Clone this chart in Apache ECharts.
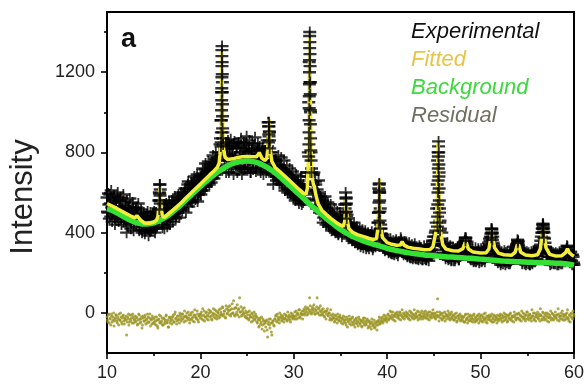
<!DOCTYPE html>
<html><head><meta charset="utf-8">
<script src="https://cdn.jsdelivr.net/npm/echarts@6/dist/echarts.min.js"></script>
<style>html,body{margin:0;padding:0;background:#fff}#c{width:587px;height:385px}</style>
</head><body><div id="c"></div>
<script>
// 2θ axis
const xStart = 10, xEnd = 60;
const xTickLabels = [10, 20, 30, 40, 50, 60];
const yTickLabels = [0, 400, 800, 1200];
const yMinorTicks = [200, 600, 1000, 1400];
const seriesNames = ['Experimental', 'Fitted', 'Background', 'Residual'];
const yTitle = 'Intensity';
const panelLabel = 'a';

// Experimental intensities, every 0.1° from 10.0 to 60.0
const expStep = 0.1;
const expValues = [
575,500,540,590,480,525,565,495,550,470,
530,575,490,515,560,470,520,550,455,500,
535,400,480,525,460,510,445,490,520,450,
475,510,525,495,455,430,480,415,465,430,
475,410,450,490,420,460,405,470,435,485,
440,475,420,490,455,515,600,615,520,460,
495,440,510,465,520,455,510,540,470,525,
490,550,495,535,480,560,505,575,515,545,
570,520,600,545,590,615,550,655,575,625,
560,640,590,655,580,635,670,555,650,600,
680,610,695,630,685,715,635,705,650,730,
665,720,750,675,740,690,770,705,775,730,
800,840,960,1310,900,830,760,835,740,815,
730,830,770,720,820,760,845,780,735,830,
760,850,785,725,835,770,715,820,750,845,
790,730,820,760,700,810,745,835,770,720,
805,745,815,820,770,725,800,715,780,735,
805,755,830,930,900,800,745,720,640,760,
700,755,680,740,670,735,660,720,645,715,
640,705,625,695,615,685,610,675,595,665,
590,660,580,650,570,640,565,630,555,625,
550,620,570,610,640,700,1050,1380,1000,720,
650,690,600,655,565,615,535,590,515,570,
495,555,475,540,465,525,450,510,440,495,
430,485,420,480,410,470,405,460,395,455,
405,465,400,455,460,520,570,490,450,400,
440,380,430,370,425,360,415,355,410,345,
405,350,400,340,395,345,390,335,385,330,
380,335,390,330,375,325,380,335,385,395,
450,620,600,440,395,370,325,365,315,360,
315,355,305,350,300,345,295,340,300,350,
295,345,300,350,315,365,350,340,305,345,
290,335,285,330,280,325,275,320,280,330,
275,320,270,315,275,325,270,315,265,310,
270,320,265,310,275,325,290,315,335,345,
360,380,410,520,760,830,520,420,370,345,
335,295,330,280,320,275,315,270,310,265,
305,260,310,270,315,275,305,265,315,320,
300,335,340,360,370,345,320,290,315,270,
310,265,305,260,300,255,305,265,310,260,
300,255,305,265,310,270,315,290,320,340,
360,395,415,380,340,310,285,310,260,300,
255,295,250,290,245,295,255,300,250,290,
245,295,255,300,275,305,285,315,320,345,
355,330,310,280,305,255,295,245,290,250,
295,245,285,240,290,250,295,255,300,265,
305,285,315,325,340,380,420,440,400,350,
325,295,280,305,255,295,245,290,250,295,
245,290,240,285,250,295,245,290,255,300,
275,310,320,330,305,295,265,290,240,280,
240];

// Experimental intensities, intermediate readings every 0.1° from 10.05 to 59.95
const expStart2 = 10.05;
const expValues2 = [
505,595,470,545,610,455,520,585,440,560,
485,600,455,530,575,440,505,590,470,520,
455,560,430,515,570,420,495,550,410,480,
520,445,490,545,410,470,515,400,455,500,
395,480,430,505,385,455,500,410,470,420,
505,400,465,430,520,560,640,560,490,425,
530,420,480,545,430,510,555,440,505,560,
455,520,580,470,545,500,590,475,555,600,
510,590,545,620,500,580,640,530,600,555,
650,550,610,680,565,625,690,590,660,620,
590,675,720,610,660,745,630,700,755,640,
740,650,710,785,670,730,800,690,765,720,
760,870,1100,1150,870,780,850,700,790,860,
700,790,865,735,800,690,855,760,820,700,
845,730,800,870,690,780,850,720,805,880,
720,810,860,700,780,845,715,800,875,705,
760,845,790,830,700,775,820,690,755,810,
700,860,950,880,780,700,800,690,760,680,
765,660,730,785,645,720,775,640,700,760,
610,700,735,600,670,720,590,650,705,575,
640,560,690,600,660,545,630,680,540,600,
640,560,610,680,700,800,1250,1150,800,690,
590,700,560,640,520,600,660,500,580,530,
560,450,525,580,440,500,550,430,495,540,
410,495,440,520,400,470,505,390,450,485,
455,380,430,490,540,600,480,420,370,445,
380,440,360,415,450,350,400,430,340,395,
420,330,380,415,325,370,410,320,365,400,
320,390,350,405,315,360,395,330,410,400,
500,640,520,420,340,390,350,310,375,335,
365,300,340,370,295,330,360,290,325,365,
330,285,355,320,375,340,300,290,355,310,
345,280,315,350,275,305,340,270,310,345,
270,330,300,265,335,295,325,265,305,335,
300,265,330,295,260,310,340,300,360,380,
340,400,450,640,800,700,460,360,400,315,
300,345,270,320,350,265,300,335,260,295,
325,280,260,320,290,330,265,295,340,305,
320,350,345,375,330,355,300,280,325,265,
290,320,255,295,325,260,285,320,250,290,
320,260,285,320,255,295,300,330,350,370,
380,420,400,350,330,275,320,295,250,310,
280,240,305,275,260,310,240,285,305,255,
280,245,310,265,295,330,280,300,340,365,
340,320,295,270,245,310,275,300,240,305,
265,300,240,275,305,245,280,310,255,285,
270,300,330,310,360,400,440,420,370,330,
300,260,310,280,240,305,270,300,245,285,
300,265,295,240,305,270,295,245,310,280,
255,295,335,310,290,250,305,260,290,250];

// Extra experimental readings on the Bragg peaks [2θ, intensity]
const expPeakPoints = [
[15.60,515],[15.62,560],[15.64,595],[15.66,640],[15.68,585],[15.70,545],
[22.20,830],[22.22,850],[22.24,900],[22.25,960],[22.27,1010],[22.28,1060],[22.29,1120],[22.30,1175],
[22.31,1230],[22.30,1280],[22.32,1330],[22.33,1250],[22.34,1190],[22.35,1100],[22.36,1040],
[22.37,980],[22.38,920],[22.40,870],[22.43,840],
[27.30,850],[27.32,890],[27.34,930],[27.36,950],[27.38,905],[27.40,860],[27.42,820],
[31.60,780],[31.62,840],[31.63,900],[31.64,960],[31.65,1020],[31.66,1080],[31.67,1140],[31.68,1200],
[31.69,1260],[31.70,1320],[31.71,1400],[31.72,1350],[31.73,1290],[31.74,1230],[31.75,1150],
[31.76,1090],[31.77,1010],[31.78,940],[31.80,870],[31.82,810],[31.85,760],[31.90,700],
[35.56,500],[35.58,540],[35.60,575],[35.62,545],[35.64,505],[35.67,470],
[39.08,450],[39.10,500],[39.12,550],[39.14,600],[39.15,645],[39.17,610],[39.19,560],[39.21,505],
[39.23,460],[39.26,420],
[45.38,430],[45.40,480],[45.42,540],[45.44,600],[45.46,660],[45.47,720],[45.48,780],[45.50,855],
[45.52,800],[45.53,740],[45.54,680],[45.56,620],[45.58,560],[45.60,500],[45.63,450],[45.66,410],
[48.38,360],[48.42,375],
[51.15,375],[51.18,400],[51.20,420],[51.23,395],[51.26,365],
[53.98,350],[54.02,360],
[56.62,400],[56.65,420],[56.68,445],[56.71,430],[56.74,405],[56.78,375]
];

// Fitted profile [2θ, intensity]
const fittedPoints = [
[10,545],[10.5,534],[11,522],[11.5,509],[12,496],[12.5,484],[13,474],[13.2,485],[13.3,492],[13.4,484],
[13.6,462],[14,448],[14.5,447],[15,452],[15.3,462],[15.45,480],[15.55,530],[15.62,600],[15.67,625],
[15.72,598],[15.8,525],[15.9,488],[16.1,475],[16.5,490],[17,510],[17.5,530],[18,552],[18.5,575],
[19,598],[19.5,620],[20,642],[20.5,665],[21,688],[21.5,710],[21.8,725],[22.0,745],[22.1,790],
[22.18,880],[22.24,1050],[22.3,1300],[22.36,1060],[22.42,890],[22.5,810],[22.65,775],[22.9,765],
[23.5,768],[24,775],[24.5,779],[25,780],[25.5,779],[26,778],[26.2,790],[26.3,800],[26.4,790],
[26.6,770],[26.9,760],[27.1,770],[27.2,810],[27.28,900],[27.35,965],[27.42,895],[27.5,805],
[27.65,755],[28,725],[28.5,705],[29,684],[29.5,662],[30,640],[30.5,618],[31,598],[31.3,590],
[31.45,620],[31.55,760],[31.63,1050],[31.7,1370],[31.77,1080],[31.85,800],[31.95,680],[32.1,640],
[32.2,630],[32.35,590],[32.6,545],[33,512],[33.5,490],[34,470],[34.5,452],[35,437],[35.3,432],
[35.45,455],[35.55,520],[35.6,565],[35.66,520],[35.75,455],[35.9,420],[36.3,402],[36.8,390],
[37.5,380],[38,372],[38.5,366],[38.85,370],[39.0,420],[39.08,540],[39.15,665],[39.22,545],
[39.3,430],[39.5,375],[40,350],[40.5,342],[41,337],[41.4,338],[41.6,355],[41.8,338],[42.2,328],
[42.8,322],[43.5,318],[44,315],[44.6,316],[44.9,330],[45.2,400],[45.35,560],[45.45,850],
[45.55,580],[45.7,410],[45.95,340],[46.3,318],[47,310],[47.6,308],[48.1,320],[48.3,345],
[48.4,365],[48.5,345],[48.7,318],[49.2,303],[50,298],[50.6,300],[50.9,320],[51.1,380],[51.2,410],
[51.3,380],[51.5,325],[51.9,298],[52.5,290],[53.3,287],[53.7,302],[53.9,335],[54,350],[54.1,335],
[54.3,302],[54.8,288],[55.5,285],[56.1,290],[56.4,320],[56.6,400],[56.7,430],[56.8,400],[57,325],
[57.4,292],[58,284],[58.7,285],[59.1,300],[59.3,320],[59.5,300],[59.8,288],[60,282]
];

// Background, every 0.5° from 10 to 60
const bgStep = 0.5;
const bgValues = [
520,512,500,488,474,462,452,446,443,444,
449,458,470,485,503,522,543,565,587,609,
630,651,671,690,707,722,735,745,752,756,
757,755,750,741,729,715,698,679,658,636,
615,594,573,551,530,510,490,470,451,433,
416,401,388,377,367,358,350,343,336,329,
322,316,311,306,302,298,295,292,289,287,
285,283,281,279,278,276,275,273,272,270,
268,266,264,262,260,258,257,256,255,254,
253,252,251,250,250,249,248,247,245,242,
238];

// Residual (plotted about 0), every 0.1° from 10.00 to 60.00
const resStep = 0.1;
const resValues = [
-20,-45,-5,-30,-60,-15,-35,0,-40,-25,
-10,-50,-30,-5,-35,-20,-55,-15,-40,-25,
-35,-110,-20,-5,-45,-30,-10,-50,-20,-35,
-15,-40,-25,-55,-5,-30,-45,-20,-60,-25,
-40,-10,-35,-50,-20,-45,-5,-30,-55,-25,
-30,-55,-40,-20,-65,-35,-10,-45,-50,-25,
-60,-30,-45,-15,-50,-35,-70,-25,-40,-20,
-35,-10,-45,5,-25,-40,-15,-30,0,-20,
-30,-5,-20,10,-40,-15,-25,5,-10,-35,
0,-25,-40,-10,15,-20,-30,-5,-45,-15,
-25,5,-15,-35,10,-20,0,-30,-10,15,
-20,5,-30,-10,20,-5,-25,10,-15,0,
15,-20,5,-10,25,-5,10,-25,20,0,
30,-10,15,-5,45,0,20,-15,25,5,
-10,20,75,5,-15,10,-5,25,-20,0,
-25,5,-35,-10,-20,0,-40,-15,-30,-5,
-20,-50,-35,-65,-25,-45,-80,-30,-55,-40,
-70,-35,-120,-45,-60,-30,-95,-50,-40,-65,
-30,-10,-45,-20,-35,0,-25,-40,-15,-30,
-5,-30,-15,-40,-20,-10,-35,0,-25,-15,
-20,5,-15,-30,0,-10,15,-25,-5,10,
-5,20,0,15,-10,25,5,75,10,-5,
30,5,20,-5,15,75,0,25,10,-10,
15,-10,5,-20,10,-5,20,-15,0,-25,
-10,-30,-5,-25,-40,-15,-30,-5,-35,-20,
-25,-50,-30,-15,-45,-35,-60,-20,-40,-30,
-55,-30,-45,-20,-60,-35,-50,-25,-40,-65,
-30,-55,-40,-70,-35,-50,-25,-60,-45,-35,
-65,-40,-55,-80,-45,-60,-35,-70,-50,-85,
-60,-35,-50,-25,-45,-20,-40,-30,-15,-35,
-25,-5,-30,10,-20,-10,5,-35,-15,0,
-20,5,-15,-30,0,-10,15,-25,-5,-15,
5,-20,-5,-30,10,-15,0,-25,-10,15,
-25,0,-15,-35,5,-10,-20,10,-30,-5,
-15,10,-25,0,-10,-35,5,-20,-5,15,
-20,0,-30,-10,70,-15,5,-25,-5,-35,
0,-20,-40,-5,-15,10,-30,-10,-25,5,
-30,-10,-35,-20,0,-40,-15,-25,-5,-35,
-15,-40,-20,-45,-5,-30,-50,-20,-35,-10,
-40,-15,-30,-5,-45,-25,-35,-10,-50,-20,
-30,-10,-45,-20,-35,0,-25,-50,-15,-30,
-20,-40,-5,-30,-45,-15,-35,-25,-10,-40,
-30,-5,-25,-45,-15,0,-35,-20,-10,-40,
-10,-30,0,-25,-40,-15,5,-20,-35,-5,
-25,0,-35,-15,10,-20,-30,-5,-40,-10,
5,-20,-35,-10,-25,15,-15,-30,0,-40,
-20,5,-30,-5,20,-15,-35,0,-25,-10,
-30,0,-20,-45,-10,10,-25,-5,-35,-15,
5,-25,-10,20,-40,-15,0,-30,-5,-20,
-35,-5,-20,15,-30,-10,-45,0,-25,10,
-15];

// Residual, intermediate readings every 0.1° from 10.05 to 59.95
const resStart2 = 10.05;
const resValues2 = [
-35,-10,-50,-25,-5,-45,-20,-65,-30,-10,
-40,-20,-60,-35,0,-45,-25,-10,-55,-30,
-15,-45,-30,-60,-10,-40,-25,-5,-50,-30,
-45,-20,-60,-35,-10,-50,-30,-75,-15,-40,
-20,-55,-30,-5,-45,-25,-65,-35,-15,-50,
-45,-20,-60,-35,-75,-30,-50,-15,-40,-60,
-25,-55,-35,-10,-45,-70,-20,-50,-30,-55,
-20,-45,-5,-30,-55,-15,-35,-50,-10,-40,
-5,-30,-45,-15,-20,0,-35,-25,-50,-10,
-30,5,-20,-45,-10,-25,10,-35,-15,-5,
-5,-30,20,-10,-40,-20,5,-15,-35,0,
10,-15,-35,0,-20,15,-10,-30,5,-25,
-10,20,-5,30,-15,10,-20,35,-5,15,
10,35,-15,20,0,60,-10,25,-5,40,
15,-20,5,30,-10,20,0,-15,10,-25,
-10,-30,10,-20,-45,-5,-25,5,-35,-15,
-45,-25,-70,-35,-55,-20,-60,-40,-90,-50,
-40,-85,-55,-30,-75,-50,-110,-40,-60,-30,
-15,-40,-5,-30,-50,-20,-10,-35,-25,-45,
-25,-10,-35,5,-30,-20,-45,-15,-5,-30,
-15,-30,10,-5,-25,15,-20,0,-10,-30,
10,-10,30,5,20,-5,15,35,0,20,
15,40,-5,10,30,0,20,-10,35,5,
-5,20,-15,5,-30,10,-10,0,-35,15,
-35,-15,-25,-45,-10,-30,-50,-20,-40,-10,
-40,-25,-55,-35,-20,-50,-30,-70,-45,-15,
-35,-60,-25,-50,-40,-70,-30,-55,-45,-20,
-50,-35,-65,-45,-25,-60,-40,-55,-30,-75,
-45,-70,-50,-30,-65,-55,-75,-45,-60,-40,
-45,-20,-55,-40,-30,-50,-10,-35,-25,-45,
-10,-35,-15,-25,5,-30,-20,-10,-40,-5,
-5,-25,-10,5,-35,-15,-20,0,-30,-10,
-15,0,-25,-10,-35,5,-20,-5,-30,-15,
-5,-20,10,-25,-10,-30,0,-15,-20,5,
-25,-5,-15,-30,5,-20,-10,-25,0,-15,
-5,-25,-15,5,-20,-40,-10,0,-30,-15,
-25,5,-15,-30,-10,-20,0,-35,-5,-20,
-15,-35,-5,-25,-45,-15,-30,-10,-40,-20,
-30,-20,-45,-10,-35,-25,-5,-40,-15,-30,
-25,-45,-10,-35,-20,-40,-15,-30,-5,-40,
-15,-40,-25,-5,-30,-45,-15,-35,-20,-10,
-35,-15,-45,-25,-10,-35,-20,-50,-30,-15,
-15,-35,-10,-25,-40,-20,-5,-30,-45,-15,
-25,-5,-35,-15,-20,-45,-10,-30,-5,-25,
-5,-30,-10,-40,-20,0,-25,-15,-30,5,
-30,-10,-5,-25,-40,-15,0,-35,-20,-10,
-5,-25,-15,-40,-10,-30,5,-20,-35,0,
-15,-40,-5,-25,-20,-35,0,-30,-10,-20,
-25,-10,-35,-5,-20,-30,-15,10,-35,-10,
-10,-30,0,-25,-40,-15,-5,-20,-30,-5];

const pairs = (start, step, vals) => vals.map((v, i) => [+(start + i * step).toFixed(2), v]);
const expData = pairs(xStart, expStep, expValues).concat(pairs(expStart2, expStep, expValues2));
const bgData = pairs(xStart, bgStep, bgValues);
const resData = pairs(xStart, resStep, resValues).concat(pairs(resStart2, resStep, resValues2));

const FONT = 'Liberation Sans, Arial, sans-serif';
const crossPath = 'path://M0,3.9L12,3.9L12,6.1L0,6.1Z M5.15,0L6.85,0L6.85,10L5.15,10Z';

const chart = echarts.init(document.getElementById('c'), null, {renderer: 'canvas'});
chart.setOption({
  animation: false,
  backgroundColor: '#fff',
  grid: {left: 107, right: 12, top: 12, bottom: 32, show: true, borderColor: '#000', borderWidth: 2},
  legend: {
    orient: 'vertical', left: 401, top: 16, itemWidth: 0, itemHeight: 0, itemGap: 6,
    icon: 'rect', selectedMode: false,
    textStyle: {fontSize: 22, fontStyle: 'italic', fontFamily: FONT, lineHeight: 22},
    data: [
      {name: seriesNames[0], textStyle: {color: '#111'}},
      {name: seriesNames[1], textStyle: {color: '#e8c447'}},
      {name: seriesNames[2], textStyle: {color: '#3dd93d'}},
      {name: seriesNames[3], textStyle: {color: '#707063'}}
    ]
  },
  graphic: [
    {type: 'text', left: 121, top: 26, style: {text: panelLabel, font: 'bold 27px ' + FONT, fill: '#111'}},
    {type: 'text', x: 23, y: 197, rotation: Math.PI / 2,
     style: {text: yTitle, font: '31px ' + FONT, fill: '#222', align: 'center', verticalAlign: 'middle'}}
  ],
  xAxis: {
    type: 'value', min: xStart, max: xEnd, interval: 10,
    axisLine: {show: true, onZero: false, lineStyle: {color: '#000', width: 2}},
    axisTick: {show: true, length: 6, lineStyle: {color: '#000', width: 1.6}},
    minorTick: {show: true, splitNumber: 2, length: 3, lineStyle: {color: '#000', width: 1.6}},
    axisLabel: {fontSize: 18, color: '#222', fontFamily: FONT, margin: 11,
      formatter: v => (xTickLabels.indexOf(v) >= 0 ? String(v) : '')},
    splitLine: {show: false}
  },
  yAxis: [{
    type: 'value', min: -200, max: 1500,
    axisLine: {show: true, onZero: false, lineStyle: {color: '#000', width: 2}},
    axisTick: {show: true, length: 6, lineStyle: {color: '#000', width: 1.6}, customValues: yTickLabels},
    axisLabel: {fontSize: 18, color: '#222', fontFamily: FONT, margin: 12, customValues: yTickLabels,
      formatter: v => String(v)},
    splitLine: {show: false}
  }, {
    type: 'value', min: -200, max: 1500, position: 'left',
    axisLine: {show: false},
    axisTick: {show: true, length: 3, lineStyle: {color: '#000', width: 1.6}, customValues: yMinorTicks},
    axisLabel: {show: false},
    splitLine: {show: false}
  }],
  series: [
    {name: seriesNames[3], type: 'scatter', data: resData, symbol: 'circle', symbolSize: 3,
     itemStyle: {color: '#9a9420'}, z: 1, silent: true},
    {name: seriesNames[0], type: 'scatter', data: expData, symbol: crossPath, symbolSize: [13, 11],
     itemStyle: {color: '#000'}, z: 2, silent: true},
    {name: seriesNames[2], type: 'line', data: bgData, symbol: 'none', smooth: true,
     lineStyle: {color: '#35e035', width: 5.5}, itemStyle: {color: '#35e035'}, z: 3, silent: true},
    {name: seriesNames[1], type: 'line', data: fittedPoints, symbol: 'none',
     lineStyle: {color: '#f3ec3a', width: 3.5}, itemStyle: {color: '#f3ec3a'}, z: 4, silent: true},
    {name: seriesNames[0], type: 'scatter', data: expPeakPoints, symbol: crossPath, symbolSize: [13, 11],
     itemStyle: {color: '#000'}, z: 5, silent: true}
  ]
});
</script></body></html>
